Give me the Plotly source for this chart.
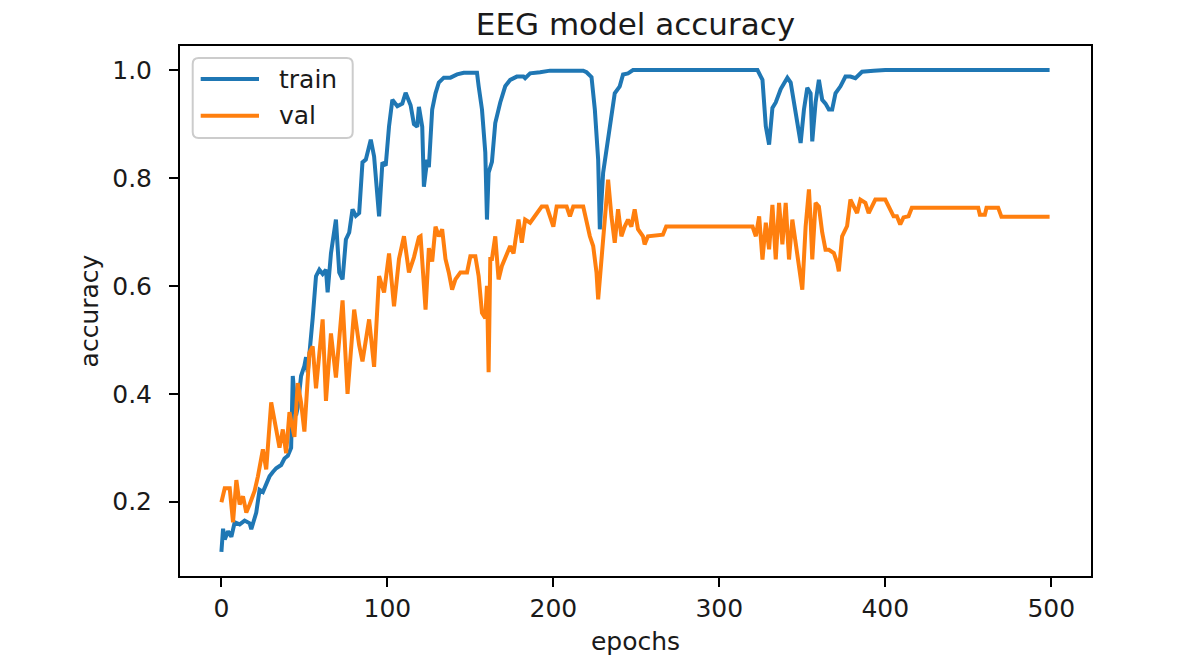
import plotly.graph_objects as go

# ---- data ----
train_epochs = [0, 1, 2, 4, 6, 8, 11, 14, 17, 18, 21, 23, 25, 27, 29, 31, 33, 36, 38, 40,
                42, 43, 44, 45, 46, 48, 50, 51, 52, 53, 55, 57, 59, 61, 63, 64, 66, 69, 71, 73,
                75, 77, 79, 81, 83, 85, 87, 90, 92, 95, 97, 99, 101, 103, 106, 109, 111, 114, 116, 118,
                119, 121, 122, 124, 125, 127, 129, 131, 134, 138, 142, 146, 154, 155, 157, 159, 160, 161, 163, 165,
                168, 171, 174, 178, 182, 183, 186, 192, 198, 218, 220, 223, 225, 227, 228, 230, 232, 234, 237, 240,
                242, 245, 248, 323, 326, 328, 330, 332, 334, 337, 340, 341, 343, 345, 347, 349, 351, 353, 355, 356,
                358, 360, 362, 364, 366, 368, 370, 373, 376, 379, 382, 386, 393, 400, 499]
train_acc = [0.107, 0.150, 0.130, 0.145, 0.135, 0.162, 0.158, 0.165, 0.160, 0.149, 0.180, 0.222, 0.218, 0.235, 0.247, 0.255, 0.262, 0.268, 0.280, 0.285,
             0.300, 0.433, 0.390, 0.360, 0.375, 0.433, 0.452, 0.468, 0.440, 0.470, 0.540, 0.618, 0.630, 0.622, 0.630, 0.588, 0.660, 0.723, 0.625, 0.612,
             0.686, 0.699, 0.742, 0.730, 0.735, 0.829, 0.834, 0.871, 0.840, 0.729, 0.829, 0.823, 0.896, 0.945, 0.933, 0.938, 0.958, 0.935, 0.900, 0.895,
             0.932, 0.895, 0.784, 0.834, 0.820, 0.927, 0.957, 0.977, 0.986, 0.986, 0.992, 0.995, 0.995, 0.970, 0.927, 0.847, 0.723, 0.810, 0.830, 0.902,
             0.940, 0.970, 0.982, 0.988, 0.988, 0.985, 0.994, 0.996, 0.999, 0.999, 0.996, 0.987, 0.927, 0.834, 0.705, 0.810, 0.853, 0.896, 0.957, 0.970,
             0.992, 0.994, 1.000, 1.000, 0.982, 0.896, 0.862, 0.930, 0.940, 0.965, 0.982, 0.986, 0.977, 0.940, 0.896, 0.865, 0.927, 0.967, 0.957, 0.868,
             0.940, 0.982, 0.945, 0.938, 0.927, 0.927, 0.957, 0.970, 0.988, 0.988, 0.985, 0.997, 0.999, 1.000, 1.000]

val_epochs = [0, 2, 5, 6, 7, 9, 11, 13, 15, 17, 20, 22, 25, 27, 30, 33, 35, 37, 39, 41,
              44, 46, 48, 50, 52, 53, 55, 57, 61, 63, 66, 69, 73, 76, 80, 83, 85, 89, 92, 95,
              98, 101, 104, 107, 110, 113, 116, 119, 120, 123, 125, 127, 129, 131, 133, 135, 137, 139, 141, 144,
              148, 150, 153, 155, 157, 159, 160, 161, 162, 163, 165, 167, 169, 172, 174, 176, 179, 181, 183, 186,
              189, 192, 193, 196, 198, 200, 202, 208, 210, 212, 218, 220, 222, 224, 226, 227, 229, 231, 233, 235,
              237, 239, 241, 243, 245, 247, 249, 251, 254, 255, 257, 266, 268, 320, 322, 324, 326, 328, 330, 332,
              334, 336, 338, 340, 342, 344, 346, 348, 350, 352, 354, 355, 356, 358, 360, 362, 364, 366, 369, 371,
              372, 374, 377, 379, 381, 383, 385, 388, 390, 392, 394, 400, 402, 405, 407, 409, 411, 414, 416, 456,
              457, 460, 461, 468, 470, 499]
val_acc = [0.199, 0.225, 0.225, 0.199, 0.162, 0.240, 0.195, 0.210, 0.180, 0.195, 0.220, 0.247, 0.297, 0.260, 0.384, 0.334, 0.300, 0.334, 0.290, 0.366,
           0.320, 0.420, 0.384, 0.330, 0.450, 0.476, 0.488, 0.410, 0.538, 0.387, 0.512, 0.430, 0.573, 0.400, 0.556, 0.490, 0.460, 0.538, 0.450, 0.618,
           0.588, 0.660, 0.562, 0.650, 0.692, 0.625, 0.653, 0.690, 0.692, 0.556, 0.670, 0.645, 0.710, 0.692, 0.705, 0.650, 0.625, 0.593, 0.612, 0.625,
           0.625, 0.655, 0.655, 0.618, 0.550, 0.540, 0.600, 0.440, 0.650, 0.650, 0.692, 0.612, 0.637, 0.660, 0.674, 0.660, 0.723, 0.680, 0.723, 0.717,
           0.729, 0.742, 0.747, 0.747, 0.729, 0.710, 0.747, 0.747, 0.729, 0.747, 0.747, 0.717, 0.692, 0.674, 0.625, 0.575, 0.643, 0.723, 0.797, 0.729,
           0.680, 0.742, 0.692, 0.710, 0.723, 0.710, 0.742, 0.705, 0.692, 0.677, 0.692, 0.695, 0.710, 0.710, 0.692, 0.729, 0.649, 0.717, 0.668, 0.750,
           0.649, 0.754, 0.677, 0.754, 0.649, 0.723, 0.680, 0.636, 0.593, 0.710, 0.779, 0.723, 0.649, 0.754, 0.747, 0.699, 0.667, 0.667, 0.661, 0.643,
           0.627, 0.692, 0.711, 0.760, 0.747, 0.735, 0.760, 0.754, 0.735, 0.747, 0.760, 0.760, 0.747, 0.729, 0.729, 0.714, 0.727, 0.729, 0.745, 0.745,
           0.732, 0.732, 0.745, 0.745, 0.728, 0.728]

x_ticks = [0, 100, 200, 300, 400, 500]
y_ticks = [0.2, 0.4, 0.6, 0.8, 1.0]
series_names = ["train", "val"]
series_colors = ["#1f77b4", "#ff7f0e"]

# ---- geometry in page pixels (page body margin is removed below) ----
W, H = 1196, 667
PL, PR, PT, PB = 180, 1091, 46, 576          # plot box
L, T, R, B = PL, PT, W - PR, H - PB
PW, PH = PR - PL, PB - PT

def px(x):
    return (x - PL) / PW

def py(y):
    return (PB - y) / PH

FONT = "DejaVu Sans"
TXT = "#1a1a1a"
LW = 4.0

fig = go.Figure()
fig.add_trace(go.Scatter(x=train_epochs, y=train_acc, mode="lines", name=series_names[0],
                         line=dict(color=series_colors[0], width=LW), showlegend=False))
fig.add_trace(go.Scatter(x=val_epochs, y=val_acc, mode="lines", name=series_names[1],
                         line=dict(color=series_colors[1], width=LW), showlegend=False))

axis_common = dict(showgrid=False, zeroline=False, showline=True, mirror=True,
                   linecolor="black", linewidth=2, ticks="outside", ticklen=9,
                   tickwidth=2, tickcolor="black",
                   tickfont=dict(family=FONT, size=25, color=TXT))

fig.update_xaxes(range=[-24.95, 523.95], tickvals=x_ticks,
                 ticktext=[str(v) for v in x_ticks], ticklabelstandoff=0,
                 title=dict(text="epochs", font=dict(family=FONT, size=25, color=TXT), standoff=10),
                 **axis_common)
fig.update_yaxes(range=[0.0623, 1.0447], tickvals=y_ticks,
                 ticktext=[f"{v:.1f}" for v in y_ticks], ticklabelstandoff=12,
                 title=dict(text="accuracy", font=dict(family=FONT, size=25, color=TXT), standoff=6),
                 **axis_common)

# ---- legend drawn by hand to match the matplotlib look ----
x0, x1, y0, y1 = 192.7, 352.7, 58, 138
r = 6
rx, ry = r / PW, r / PH
X0, X1, Y0, Y1 = px(x0), px(x1), py(y1), py(y0)
path = (f"M {X0+rx},{Y0} L {X1-rx},{Y0} Q {X1},{Y0} {X1},{Y0+ry} "
        f"L {X1},{Y1-ry} Q {X1},{Y1} {X1-rx},{Y1} L {X0+rx},{Y1} "
        f"Q {X0},{Y1} {X0},{Y1-ry} L {X0},{Y0+ry} Q {X0},{Y0} {X0+rx},{Y0} Z")
shapes = [dict(type="path", xref="paper", yref="paper", path=path,
               fillcolor="rgba(255,255,255,0.8)", line=dict(color="#cccccc", width=2))]
annotations = []
rows_y = [79, 115.7]
for name, color, ry_px in zip(series_names, series_colors, rows_y):
    shapes.append(dict(type="line", xref="paper", yref="paper",
                       x0=px(200.7), x1=px(259), y0=py(ry_px), y1=py(ry_px),
                       line=dict(color=color, width=LW)))
    annotations.append(dict(xref="paper", yref="paper", x=px(277), y=py(ry_px),
                            xanchor="left", yanchor="middle", showarrow=False,
                            text=name, font=dict(family=FONT, size=25, color=TXT)))

fig.update_layout(
    width=W, height=H,
    margin=dict(l=L, r=R, t=T, b=B),
    paper_bgcolor="white", plot_bgcolor="white",
    title=dict(text="EEG model accuracy", x=(L + PW / 2) / W, xanchor="center",
               y=1 - 24 / H, yanchor="middle",
               font=dict(family=FONT, size=31, color=TXT)),
    shapes=shapes, annotations=annotations,
)

fig.write_html("out.html",
               config={"displayModeBar": False},
               post_script="document.body.style.margin='0px';document.body.style.overflow='hidden';")
